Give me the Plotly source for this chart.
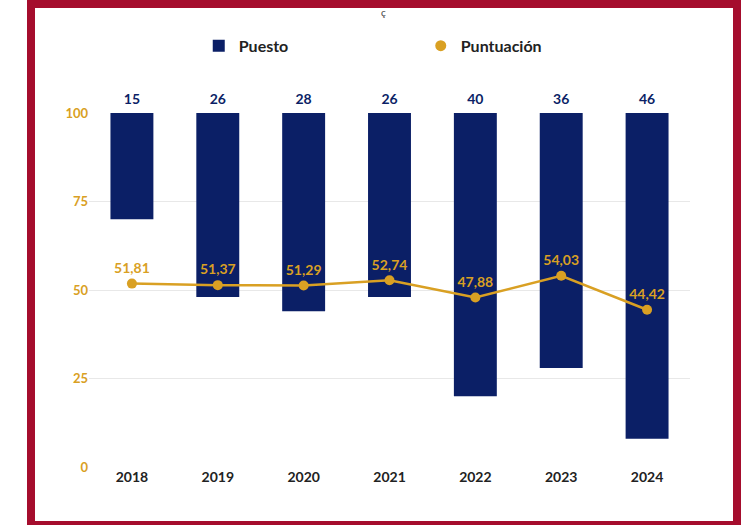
import plotly.graph_objects as go

years = ["2018", "2019", "2020", "2021", "2022", "2023", "2024"]
puesto = [15, 26, 28, 26, 40, 36, 46]
puntuacion = [51.81, 51.37, 51.29, 52.74, 47.88, 54.03, 44.42]

NAVY = "#0B1F66"
GOLD = "#D9A023"
RED = "#A50D2D"
FONT = "Lato"

fig = go.Figure()

# bars on the (hidden, reversed) rank axis
fig.add_trace(go.Bar(
    x=years, y=puesto, yaxis="y", name="Puesto",
    marker=dict(color=NAVY, line=dict(width=0)), width=0.5,
    showlegend=True,
))
# rank labels at the top of the bars
fig.add_trace(go.Scatter(
    x=years, y=[0] * len(years), yaxis="y", mode="markers+text",
    marker=dict(size=8, opacity=0),
    text=[str(v) for v in puesto], textposition="top center",
    textfont=dict(family=FONT, size=14, color=NAVY, weight="bold"),
    showlegend=False, cliponaxis=False, hoverinfo="skip",
))
# score line on the visible 0-100 axis
fig.add_trace(go.Scatter(
    x=years, y=puntuacion, yaxis="y2", mode="lines+markers+text", name="Puntuación",
    line=dict(color=GOLD, width=2.5), marker=dict(color=GOLD, size=10),
    texttemplate="%{y:.2f}", textposition="top center",
    textfont=dict(family=FONT, size=14, color=GOLD, weight="bold"),
    showlegend=False, cliponaxis=False,
))
# legend entry for Puntuación (circle only)
fig.add_trace(go.Scatter(
    x=[None], y=[None], yaxis="y2", mode="markers", name="Puntuación",
    marker=dict(color=GOLD, size=11, symbol="circle"),
))

fig.update_layout(
    width=742, height=525,
    margin=dict(l=89, r=52, t=113, b=58),
    paper_bgcolor="white", plot_bgcolor="white",
    separators=",.",
    font=dict(family=FONT),
    bargap=0.5,
    xaxis=dict(
        type="category", showgrid=False, zeroline=False, showline=False,
        ticks="", tickfont=dict(family=FONT, size=14, color="#222222", weight="bold"),
    ),
    yaxis=dict(
        range=[50, 0], showgrid=False, zeroline=False, showline=False,
        showticklabels=False, ticks="",
    ),
    yaxis2=dict(
        overlaying="y", side="left",
        range=[0, 100], tickvals=[0, 25, 50, 75, 100],
        showgrid=True, gridcolor="#E8E8E8", gridwidth=1, zeroline=False,
        showline=False, ticks="",
        tickfont=dict(family=FONT, size=13, color=GOLD, weight="bold"),
    ),
    legend=dict(
        orientation="h", x=0.552, xanchor="center", y=1.19, yanchor="middle",
        font=dict(family=FONT, size=16, color="#222222", weight="bold"),
        entrywidth=177, entrywidthmode="pixels", itemwidth=30,
        bgcolor="rgba(0,0,0,0)",
    ),
    shapes=[dict(
        type="rect", xref="paper", yref="paper",
        x0=-0.0965, x1=1.0782, y0=-0.1638, y1=1.308,
        line=dict(color=RED, width=8), fillcolor="rgba(0,0,0,0)", layer="above",
    )],
    annotations=[dict(
        text="ç", xref="paper", yref="paper", x=(383 - 89) / 601, y=(467 - 12) / 354,
        xanchor="center", yanchor="middle",
        showarrow=False, font=dict(family=FONT, size=10, color="#444444"),
    )],
)

fig.write_html("out.html", config={"displayModeBar": False},
               post_script="document.body.style.margin='0';")
